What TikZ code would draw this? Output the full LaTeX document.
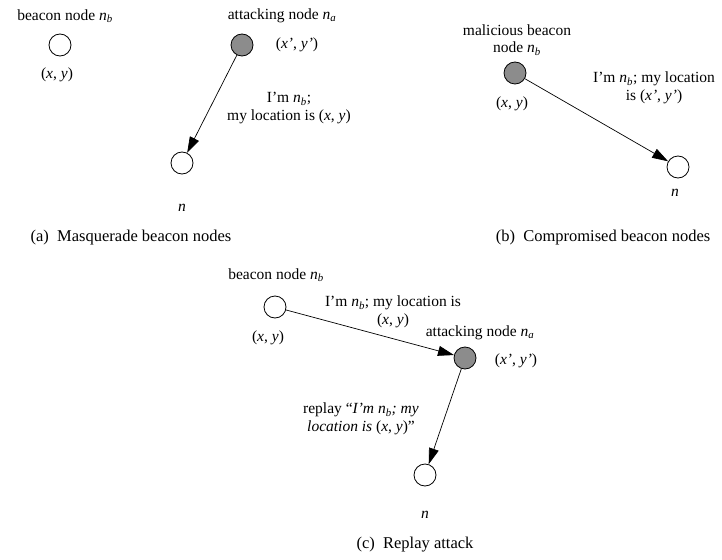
\documentclass[tikz,border=0pt]{standalone}
\usepackage{fontspec}
\setmainfont{Liberation Serif}
\usetikzlibrary{arrows.meta}
\definecolor{attackgray}{RGB}{140,140,140}
\newcommand{\nsub}[1]{\textit{n}\textsubscript{\textit{#1}}}
\newcommand{\locxy}{(\textit{x}, \textit{y})}
\newcommand{\locxyp}{(\textit{x’}, \textit{y’})}

\begin{document}
\begin{tikzpicture}[x=1pt,y=-1pt]

   %Styles of nodes and arrows
   \tikzstyle{sensor} = [circle, draw=black, line width=0.8pt, fill=white, minimum size=22pt, inner sep=0pt]
   \tikzstyle{attacker} = [sensor, fill=attackgray]
   \tikzstyle{txt} = [font=\fontsize{15.5}{17.5}\selectfont, align=center, inner sep=0pt]
   \tikzstyle{capt} = [font=\fontsize{16.5}{18}\selectfont, inner sep=0pt]
   \tikzstyle{arrow} = [line width=0.7pt, -{Triangle[length=16pt,width=10pt]}]

   \useasboundingbox (0,0) rectangle (722,559);

   %(a) masquerade
   \node[sensor] (abeacon) at (60,45) {};
   \node[txt] (abeaconname) at (65,16) {beacon node \nsub{b}};
   \node[txt] (abeaconloc) at (57,75) {\locxy};
   \node[attacker] (aattack) at (242,45) {};
   \node[txt] (aattackname) at (282,16) {attacking node \nsub{a}};
   \node[txt] (aattackloc) at (297,45) {\locxyp};
   \node[sensor] (anode) at (182,163) {};
   \node[txt] (anodename) at (182,208) {\textit{n}};
   \node[txt] (amsg) at (289,108) {I’m \nsub{b};\\my location is \locxy};
   \node[capt] (acapt) at (131,238) {(a)\enspace Masquerade beacon nodes};

   %(b) compromised
   \node[attacker] (battack) at (515,73) {};
   \node[txt] (battackname) at (517,40) {malicious beacon\\node \nsub{b}};
   \node[txt] (battackloc) at (512,104) {\locxy};
   \node[sensor] (bnode) at (678,167) {};
   \node[txt] (bnodename) at (675,193) {\textit{n}};
   \node[txt] (bmsg) at (654,88) {I’m \nsub{b}; my location\\is \locxyp};
   \node[capt] (bcapt) at (603,238) {(b)\enspace Compromised beacon nodes};

   %(c) replay
   \node[sensor] (cbeacon) at (275,307) {};
   \node[txt] (cbeaconname) at (276,275) {beacon node \nsub{b}};
   \node[txt] (cbeaconloc) at (268,338) {\locxy};
   \node[attacker] (cattack) at (465,358) {};
   \node[txt] (cattackname) at (480,333) {attacking node \nsub{a}};
   \node[txt] (cattackloc) at (516,361) {\locxyp};
   \node[sensor] (cnode) at (425,475) {};
   \node[txt] (cnodename) at (425,515) {\textit{n}};
   \node[txt] (cmsg) at (393,312) {I’m \nsub{b}; my location is\\\locxy};
   \node[txt] (creplay) at (361,419) {replay “\textit{I’m \nsub{b}; my}\\\textit{location is} \locxy”};
   \node[capt] (ccapt) at (415,545) {(c)\enspace Replay attack};

   %Arrows
   \draw[arrow] (aattack) -- (anode);
   \draw[arrow] (battack) -- (bnode);
   \draw[arrow] (cbeacon) -- (cattack);
   \draw[arrow] (cattack) -- (cnode);

\end{tikzpicture}
\end{document}
